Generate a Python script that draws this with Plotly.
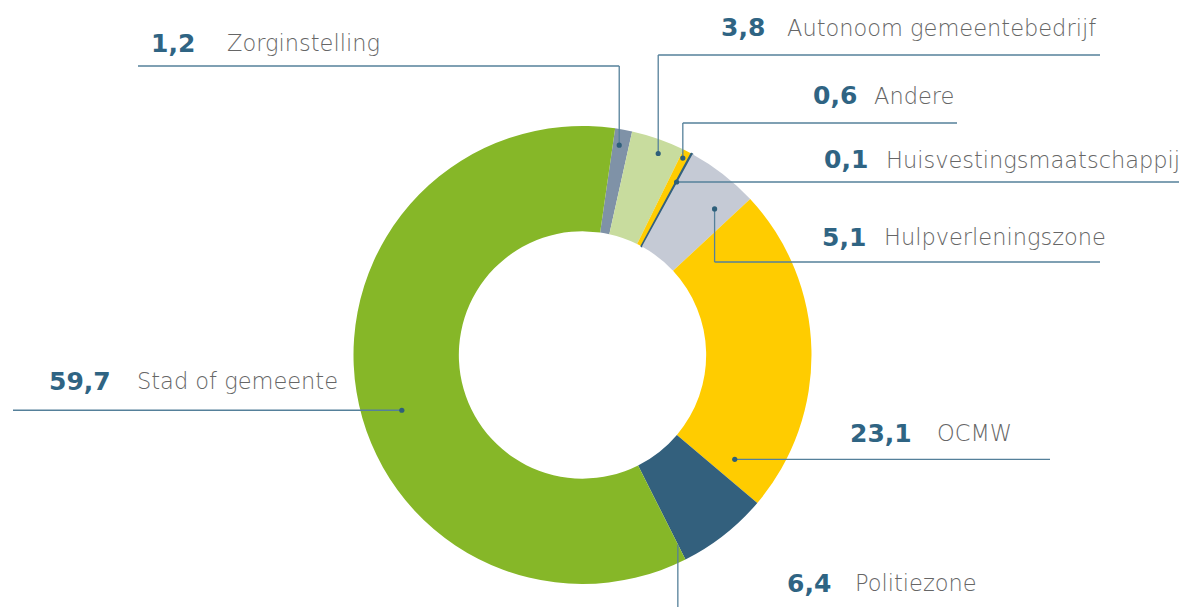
import math
import plotly.graph_objects as go

# ---------------- data ----------------
labels = ["Zorginstelling", "Autonoom gemeentebedrijf", "Andere", "Huisvestingsmaatschappij",
          "Hulpverleningszone", "OCMW", "Politiezone", "Stad of gemeente"]
values = [1.2, 3.8, 0.6, 0.1, 5.1, 23.1, 6.4, 59.7]
colors = ["#7f92a7", "#c8dc9e", "#ffcc00", "#33607d", "#c5cad5", "#ffcc00", "#33607d", "#86b728"]

# ---------------- layout constants (pixels in the screenshot) ----------------
W, H = 1187, 607
PAGE_OFF = 8          # page body margin of the html page
CX, CY, R = 582.5, 355.0, 229.0
ROT = 8.2
HOLE = 0.54
NUM_COLOR = "#2f6483"
TXT_COLOR = "#666666"
LINE_COLOR = "#55809a"
NUM_FONT = "DejaVu Sans"
TXT_FONT = "DejaVu Sans"

# per label: number right edge x, text x, text centre y, line y (None -> dot y), line end x,
# dot position within slice (fraction of angle span), dot radius (fraction of R)
label_layout = {
    "Zorginstelling":           dict(nx=197, tx=225, ty=43,  ly=66,   lx=138,  frac=0.40, rr=0.93),
    "Autonoom gemeentebedrijf": dict(nx=767, tx=785, ty=28,  ly=55,   lx=1100, frac=0.59, rr=0.94),
    "Andere":                   dict(nx=859, tx=872, ty=96,  ly=123,  lx=957,  frac=0.37, rr=0.965),
    "Huisvestingsmaatschappij": dict(nx=870, tx=884, ty=160, ly=None, lx=1180, frac=0.50, rr=0.86),
    "Hulpverleningszone":       dict(nx=868, tx=882, ty=237, ly=262,  lx=1100, frac=0.73, rr=0.86),
    "OCMW":                     dict(nx=914, tx=935, ty=433, ly=None, lx=1050, frac=0.93, rr=0.806),
    "Politiezone":              dict(nx=833, tx=853, ty=583, ly=H + 5, lx=None, frac=1.00, rr=0.926, nodot=True),
    "Stad of gemeente":         dict(nx=113, tx=135, ty=381, ly=None, lx=13,   frac=0.464, rr=0.825),
}


def px(x):
    return (x - PAGE_OFF) / W


def py(y):
    return 1 - (y - PAGE_OFF) / H


line_widths = [1.6 if v < 0.3 else 0 for v in values]

fig = go.Figure(go.Pie(
    labels=labels,
    values=values,
    marker=dict(colors=colors, line=dict(width=line_widths, color=colors)),
    hole=HOLE,
    sort=False,
    direction="clockwise",
    rotation=ROT,
    textinfo="none",
    hoverinfo="label+value",
    showlegend=False,
    domain=dict(x=[px(CX - R), px(CX + R)], y=[py(CY + R), py(CY - R)]),
))

shapes = []
annotations = []
total = sum(values)
cum = 0.0
for lab, val in zip(labels, values):
    start = ROT + cum / total * 360
    span = val / total * 360
    cum += val
    L = label_layout[lab]
    ang = math.radians(start + L["frac"] * span)
    r = L["rr"] * R
    dx = CX + r * math.sin(ang)
    dy = CY - r * math.cos(ang)
    ly = dy if L["ly"] is None else L["ly"]
    line = dict(type="line", xref="paper", yref="paper", line=dict(color=LINE_COLOR, width=1.3))
    if abs(ly - dy) > 0.5:
        shapes.append(dict(line, x0=px(dx), x1=px(dx), y0=py(dy), y1=py(ly)))
    if L["lx"] is not None:
        shapes.append(dict(line, x0=px(dx), x1=px(L["lx"]), y0=py(ly), y1=py(ly)))
    if not L.get("nodot"):
        d = 2.6
        shapes.append(dict(type="circle", xref="paper", yref="paper",
                           x0=px(dx - d), x1=px(dx + d), y0=py(dy + d), y1=py(dy - d),
                           fillcolor="#2e5f7a", line=dict(width=0)))
    num = f"{val:.1f}".replace(".", ",")
    annotations.append(dict(x=px(L["nx"]), y=py(L["ty"]), xref="paper", yref="paper",
                            xanchor="right", yanchor="middle", showarrow=False,
                            text=f"<b>{num}</b>",
                            font=dict(family=NUM_FONT, size=25, color=NUM_COLOR)))
    annotations.append(dict(x=px(L["tx"]), y=py(L["ty"]), xref="paper", yref="paper",
                            xanchor="left", yanchor="middle", showarrow=False,
                            text=lab,
                            font=dict(family=TXT_FONT, size=22.5, color=TXT_COLOR, weight=300)))

fig.update_layout(
    width=W, height=H,
    margin=dict(l=0, r=0, t=0, b=0),
    paper_bgcolor="white",
    plot_bgcolor="white",
    shapes=shapes,
    annotations=annotations,
)

fig.write_html("out.html")
